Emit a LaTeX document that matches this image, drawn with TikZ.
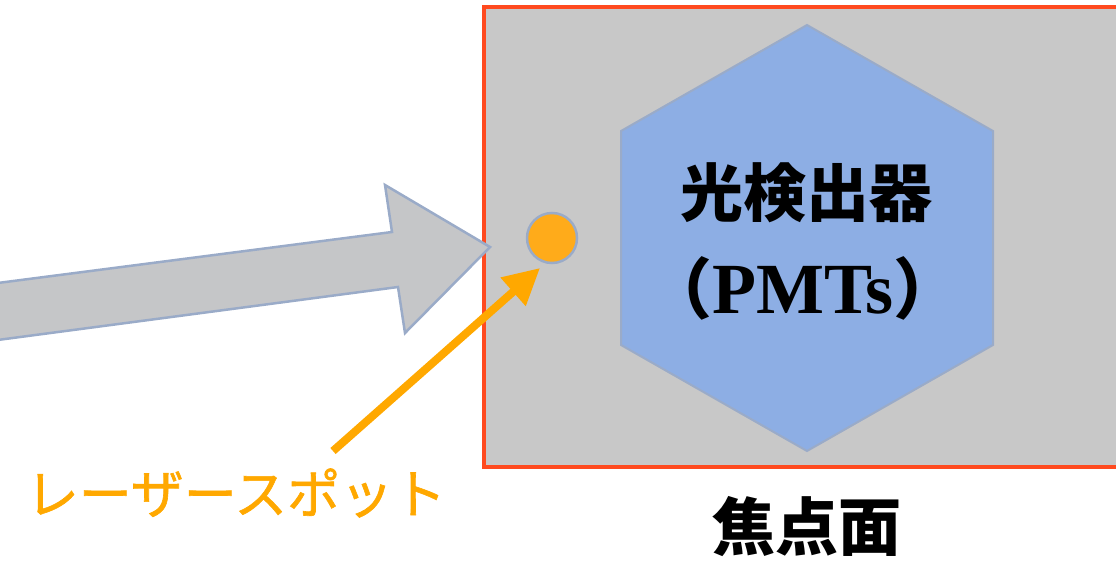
\documentclass[tikz,border=0pt]{standalone}
\usepackage{fontspec}
\newfontfamily\jp{Noto Sans CJK JP}
\newfontfamily\jpmed[FakeBold=1.2]{Noto Sans CJK JP}
\newfontfamily\lat{Liberation Serif}
\usetikzlibrary{arrows.meta}
\definecolor{planered}{HTML}{FF4A1F}
\definecolor{planegray}{HTML}{C8C8C8}
\definecolor{hexblue}{HTML}{8DAEE4}
\definecolor{edgeblue}{HTML}{9AABC8}
\definecolor{spotorange}{HTML}{FFAB1A}
\definecolor{arroworange}{HTML}{FFA800}
\definecolor{beamgray}{HTML}{C5C6C8}
\tikzset{
  plane/.style={draw=planered, line width=4pt, fill=planegray},
  detector/.style={draw=edgeblue, line width=2pt, fill=hexblue},
  spot/.style={circle, draw=edgeblue, line width=2.5pt, fill=spotorange, minimum size=50pt, inner sep=0pt},
  beam/.style={draw=edgeblue, line width=2.5pt, fill=beamgray, line join=miter},
  pointer/.style={draw=arroworange, line width=8pt, -{Triangle[length=36pt,width=36pt]}},
  jptext/.style={font=\jp\bfseries\fontsize{63}{75}\selectfont, text=black, inner sep=0pt},
  orangetext/.style={font=\jpmed\fontsize{53}{64}\selectfont, text=arroworange, inner sep=0pt}
}
\begin{document}
\begin{tikzpicture}[x=1pt,y=-1pt]
\useasboundingbox (0,0) rectangle (1116,562);
\clip (0,0) rectangle (1116,562);
% focal plane
\draw[plane] (484,7) rectangle (1130,467);
% beam arrow
\draw[beam] (-10,284) -- (392,232) -- (385,185) -- (490,247) -- (405,333) -- (398,287) -- (-10,341) -- cycle;
% detector hexagon
\draw[detector] (807,25) -- (993,131) -- (993,345) -- (807,451) -- (621,345) -- (621,131) -- cycle;
\node[jptext] (det) at (806,193) {光検出器};
\node[jptext, anchor=base] (pmt) at (803,313) {{\jp\bfseries\fontsize{66}{75}\selectfont （}{\lat\bfseries\fontsize{72}{80}\selectfont PMTs}{\jp\bfseries\fontsize{66}{75}\selectfont ）}};
% laser spot
\node[spot] (spot) at (552,238) {};
% label and pointer
\node[orangetext] (lbl) at (236,493) {レーザースポット};
\coordinate (pstart) at (333,451);
\draw[pointer] (pstart) -- (540,268);
\node[jptext] (fp) at (807,527) {焦点面};
\end{tikzpicture}
\end{document}
